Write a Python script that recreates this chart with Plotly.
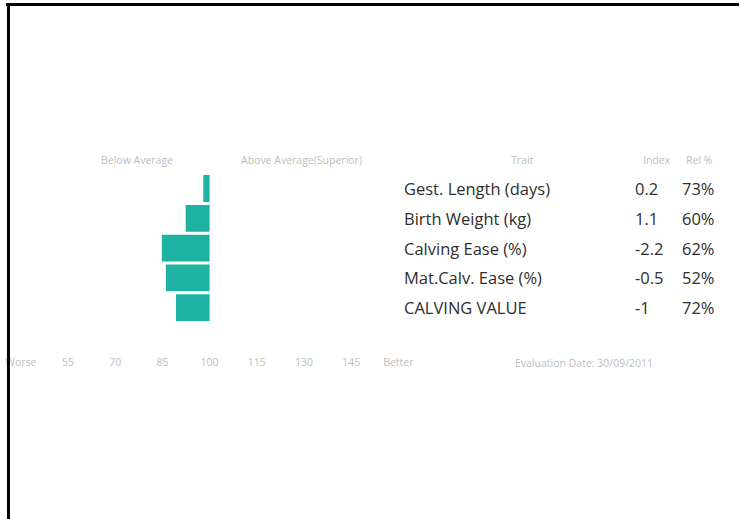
import plotly.graph_objects as go

traits = ["Gest. Length (days)", "Birth Weight (kg)", "Calving Ease (%)",
          "Mat.Calv. Ease (%)", "CALVING VALUE"]
bar_index = [98.0, 92.4, 84.8, 86.1, 89.3]
index_vals = ["0.2", "1.1", "-2.2", "-0.5", "-1"]
rel_vals = ["73%", "60%", "62%", "52%", "72%"]
tick_vals = [40, 55, 70, 85, 100, 115, 130, 145, 160]
tick_text = ["Worse", "55", "70", "85", "100", "115", "130", "145", "Better"]
headers = ["Below Average", "Above Average(Superior)", "Trait", "Index", "Rel %"]
footer = "Evaluation Date: 30/09/2011"

rows = list(range(len(traits)))
base = 100

W, H = 740, 519
def px(x):
    return x / W
def py(y):
    return 1 - y / H

fig = go.Figure()
fig.add_trace(go.Bar(
    y=rows, x=[v - base for v in bar_index], base=base, orientation="h",
    marker=dict(color="#1db2a2", line=dict(width=0)), width=0.9,
    hoverinfo="skip", showlegend=False))

annotations = []
font_tbl = dict(family="Open Sans, sans-serif", size=16.5, color="#2e2e2e")
for i, t in enumerate(traits):
    annotations.append(dict(x=px(401), y=i, xref="paper", yref="y", text=t,
                            showarrow=False, xanchor="left", yanchor="middle", font=font_tbl))
    annotations.append(dict(x=px(633), y=i, xref="paper", yref="y", text=index_vals[i],
                            showarrow=False, xanchor="left", yanchor="middle", font=font_tbl))
    annotations.append(dict(x=px(681), y=i, xref="paper", yref="y", text=rel_vals[i],
                            showarrow=False, xanchor="left", yanchor="middle", font=font_tbl))

font_small = dict(family="Open Sans, sans-serif", size=10.5, color="#bdbdbd")
hdr_x = [134, 300, 522, 657, 700]
for hx, h in zip(hdr_x, headers):
    annotations.append(dict(x=px(hx), y=py(160), xref="paper", yref="paper", text=h,
                            showarrow=False, xanchor="center", yanchor="middle", font=font_small))
annotations.append(dict(x=px(584), y=py(363), xref="paper", yref="paper", text=footer,
                        showarrow=False, xanchor="center", yanchor="middle", font=font_small))

shapes = [
    dict(type="line", xref="paper", yref="paper", x0=px(2), x1=px(740), y0=py(4.5), y1=py(4.5),
         line=dict(color="#000000", width=3)),
    dict(type="line", xref="paper", yref="paper", x0=px(4.5), x1=px(4.5), y0=py(3), y1=py(519),
         line=dict(color="#000000", width=3)),
]

ppu = 47.5 / 15
zero_px = 207
x_left_px, x_right_px = 5, 412
x0v = 100 - (zero_px - x_left_px) / ppu
x1v = 100 + (x_right_px - zero_px) / ppu
y_top, y_bot = 160, 354
r0 = (y_top - 188.5) / 29.8
r1 = (y_bot - 188.5) / 29.8

fig.update_layout(
    width=W, height=H,
    margin=dict(l=0, r=0, t=0, b=0),
    paper_bgcolor="white", plot_bgcolor="white",
    bargap=0.1,
    xaxis=dict(domain=[px(x_left_px), px(x_right_px)], range=[x0v, x1v],
               tickvals=tick_vals, ticktext=tick_text,
               showgrid=False, zeroline=False, showline=False, ticks="",
               tickfont=font_small, fixedrange=True),
    yaxis=dict(domain=[py(y_bot), py(y_top)], range=[r1, r0], showticklabels=False,
               showgrid=False, zeroline=False, showline=False, fixedrange=True),
    annotations=annotations, shapes=shapes,
)

fig.write_html("out.html", config={"displayModeBar": False},
               post_script="document.body.style.margin='0';")
